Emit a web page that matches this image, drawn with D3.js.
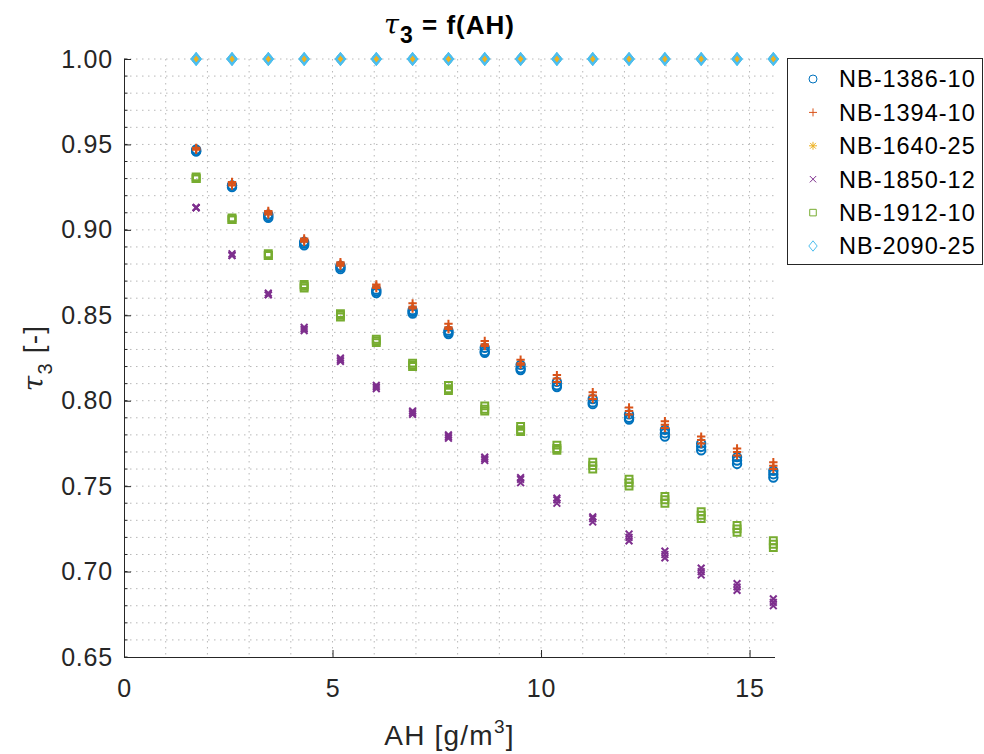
<!DOCTYPE html>
<html>
<head>
<meta charset="utf-8">
<script src="https://cdn.jsdelivr.net/npm/d3@7"></script>
<style>
  html, body { margin: 0; padding: 0; background: #ffffff; }
  svg { display: block; font-family: "Liberation Sans", Arial, Helvetica, sans-serif; }
</style>
</head>
<body>
<svg id="chart" width="984" height="754"></svg>
<script>
// Absolute humidity values (g/m^3) at which transmittance was measured
const ahValues = [1.73, 2.59, 3.46, 4.32, 5.19, 6.05, 6.92, 7.78, 8.65, 9.51, 10.38, 11.24, 12.11, 12.97, 13.84, 14.70, 15.57];

// Transmittance tau_3, three repeat readings per humidity step
const nb1386 = [
  [0.947,0.946,0.946],[0.926,0.926,0.925],[0.909,0.908,0.907],[0.893,0.892,0.891],
  [0.879,0.878,0.877],[0.865,0.864,0.863],[0.853,0.852,0.851],[0.841,0.840,0.839],
  [0.831,0.829,0.828],[0.821,0.819,0.818],[0.811,0.809,0.808],[0.801,0.799,0.798],
  [0.792,0.790,0.789],[0.783,0.781,0.779],[0.775,0.773,0.771],[0.767,0.765,0.763],
  [0.759,0.757,0.755]
];
const nb1394 = [
  [0.948,0.947,0.947],[0.928,0.927,0.926],[0.911,0.910,0.909],[0.895,0.894,0.893],
  [0.881,0.880,0.879],[0.868,0.867,0.866],[0.857,0.855,0.854],[0.845,0.843,0.842],
  [0.835,0.833,0.832],[0.824,0.822,0.821],[0.815,0.813,0.811],[0.805,0.803,0.801],
  [0.796,0.794,0.792],[0.788,0.786,0.784],[0.779,0.777,0.775],[0.772,0.770,0.768],
  [0.764,0.762,0.760]
];
const nb1640 = [
  [1,1,1],[1,1,1],[1,1,1],[1,1,1],[1,1,1],[1,1,1],[1,1,1],[1,1,1],[1,1,1],
  [1,1,1],[1,1,1],[1,1,1],[1,1,1],[1,1,1],[1,1,1],[1,1,1],[1,1,1]
];
const nb1850 = [
  [0.913,0.913,0.913],[0.886,0.885,0.885],[0.863,0.862,0.862],[0.843,0.842,0.841],
  [0.825,0.824,0.823],[0.809,0.808,0.807],[0.794,0.793,0.792],[0.780,0.779,0.778],
  [0.767,0.766,0.765],[0.755,0.754,0.752],[0.743,0.742,0.740],[0.732,0.731,0.729],
  [0.722,0.720,0.718],[0.712,0.710,0.708],[0.702,0.700,0.698],[0.693,0.691,0.689],
  [0.684,0.682,0.680]
];
const nb1912 = [
  [0.931,0.930,0.930],[0.907,0.906,0.906],[0.886,0.885,0.885],[0.868,0.867,0.866],
  [0.851,0.850,0.849],[0.836,0.835,0.834],[0.822,0.821,0.820],[0.809,0.807,0.806],
  [0.797,0.795,0.794],[0.785,0.783,0.782],[0.774,0.772,0.771],[0.764,0.762,0.760],
  [0.754,0.752,0.750],[0.744,0.742,0.740],[0.735,0.733,0.731],[0.727,0.725,0.723],
  [0.718,0.716,0.714]
];
const nb2090 = [
  [1,1,1],[1,1,1],[1,1,1],[1,1,1],[1,1,1],[1,1,1],[1,1,1],[1,1,1],[1,1,1],
  [1,1,1],[1,1,1],[1,1,1],[1,1,1],[1,1,1],[1,1,1],[1,1,1],[1,1,1]
];

const seriesNames = ["NB-1386-10", "NB-1394-10", "NB-1640-25", "NB-1850-12", "NB-1912-10", "NB-2090-25"];
const seriesValues = [nb1386, nb1394, nb1640, nb1850, nb1912, nb2090];
const seriesColors = ["#0072BD", "#D95319", "#EDB120", "#7E2F8E", "#77AC30", "#4DBEEE"];
const seriesMarkers = ["circle", "plus", "star", "cross", "square", "diamond"];

const xTicks = [0, 5, 10, 15];
const yTicks = [0.65, 0.70, 0.75, 0.80, 0.85, 0.90, 0.95, 1.00];

// Layout
const plot = { left: 124, top: 59, right: 775, bottom: 657 };
const svg = d3.select("#chart");

const x = d3.scaleLinear().domain([0, 15.61]).range([plot.left, plot.right]);
const y = d3.scaleLinear().domain([0.65, 1.0]).range([plot.bottom, plot.top]);

const axisColor = "#262626";
const gridColor = "#b8b8b8";

// Grid (minor and major, dotted)
const gridG = svg.append("g");
const xMinor = d3.range(1, 16, 1);
const yMinor = d3.range(0, 36).map(i => +(0.65 + i * 0.01).toFixed(2));
gridG.selectAll("line.vg").data(xMinor).join("line")
  .attr("x1", d => x(d)).attr("x2", d => x(d))
  .attr("y1", plot.top).attr("y2", plot.bottom)
  .attr("stroke", gridColor).attr("stroke-width", 1)
  .attr("stroke-dasharray", "1.5,4.5");
gridG.selectAll("line.hg").data(yMinor.filter(v => v > 0.65)).join("line")
  .attr("x1", plot.left).attr("x2", plot.right)
  .attr("y1", d => y(d)).attr("y2", d => y(d))
  .attr("stroke", gridColor).attr("stroke-width", 1)
  .attr("stroke-dasharray", "1.5,4.5");

// Axes
const xAxis = d3.axisBottom(x).tickValues(xTicks).tickSize(-7).tickPadding(22)
  .tickFormat(d3.format("d"));
const yAxis = d3.axisLeft(y).tickValues(yTicks).tickSize(-7).tickPadding(11)
  .tickFormat(d3.format(".2f"));

const gx = svg.append("g").attr("transform", `translate(0,${plot.bottom})`).call(xAxis);
const gy = svg.append("g").attr("transform", `translate(${plot.left},0)`).call(yAxis);
[gx, gy].forEach(g => {
  g.select(".domain").attr("stroke", axisColor).attr("stroke-width", 1);
  g.selectAll(".tick line").attr("stroke", axisColor);
  g.selectAll(".tick text").attr("fill", axisColor)
    .style("font-size", "25px").style("letter-spacing", "0.8px")
    .style("font-family", "'Liberation Sans', Arial, sans-serif");
});
gx.select(".domain").attr("d", `M${plot.left},0.5H${plot.right}`);
gy.select(".domain").attr("d", `M0.5,${plot.bottom}V${plot.top}`);

// Minor ticks on the y axis
svg.append("g").selectAll("line").data(yMinor).join("line")
  .attr("x1", plot.left).attr("x2", plot.left + 3.5)
  .attr("y1", d => y(d)).attr("y2", d => y(d))
  .attr("stroke", axisColor).attr("stroke-width", 1);

// Marker path generators (s = half extent)
function markerPath(type, s) {
  switch (type) {
    case "circle": return `M${s},0A${s},${s} 0 1,1 ${-s},0A${s},${s} 0 1,1 ${s},0Z`;
    case "plus": return `M${-s},0H${s}M0,${-s}V${s}`;
    case "cross": { const c = s * 0.8; return `M${-c},${-c}L${c},${c}M${-c},${c}L${c},${-c}`; }
    case "star": { const c = s * 0.72; return `M${-s},0H${s}M0,${-s}V${s}M${-c},${-c}L${c},${c}M${-c},${c}L${c},${-c}`; }
    case "square": { const c = s * 0.82; return `M${-c},${-c}H${c}V${c}H${-c}Z`; }
    case "diamond": { const w = s * 1.05, h = s * 1.3; return `M0,${-h}L${w},0L0,${h}L${-w},0Z`; }
  }
}

// Data points
const pointsG = svg.append("g");
seriesValues.forEach((vals, si) => {
  const pts = [];
  vals.forEach((reps, i) => reps.forEach(v => pts.push({ ah: ahValues[i], v })));
  pointsG.append("g").selectAll("path").data(pts).join("path")
    .attr("transform", d => `translate(${x(d.ah)},${y(d.v)})`)
    .attr("d", markerPath(seriesMarkers[si], 4.2))
    .attr("fill", "none")
    .attr("stroke", seriesColors[si])
    .attr("stroke-width", 2);
});

// Title
const title = svg.append("text")
  .attr("x", (plot.left + plot.right) / 2).attr("y", 34)
  .attr("text-anchor", "middle")
  .attr("fill", "#000").style("font-size", "26px").style("font-weight", "bold")
  .style("letter-spacing", "1px");
title.append("tspan").text("τ").style("font-style", "italic").style("font-weight", "normal")
  .style("font-family", "'DejaVu Serif', serif").style("font-size", "27px");
title.append("tspan").text("3").attr("dy", 9).style("font-size", "23px");
title.append("tspan").text(" = f(AH)").attr("dy", -9);

// X axis title
const xt = svg.append("text")
  .attr("x", (plot.left + plot.right) / 2).attr("y", 745)
  .attr("text-anchor", "middle").attr("fill", axisColor)
  .style("font-size", "28px").style("letter-spacing", "1.2px");
xt.append("tspan").text("AH [g/m");
xt.append("tspan").text("3").attr("dy", -12).style("font-size", "19px");
xt.append("tspan").text("]").attr("dy", 12);

// Y axis title
const yt = svg.append("text")
  .attr("transform", `translate(43,${(plot.top + plot.bottom) / 2}) rotate(-90)`)
  .attr("text-anchor", "middle").attr("fill", axisColor)
  .style("font-size", "28px").style("letter-spacing", "1.2px");
yt.append("tspan").text("τ").style("font-style", "italic").style("font-family", "'DejaVu Serif', serif");
yt.append("tspan").text("3").attr("dy", 9).style("font-size", "20px");
yt.append("tspan").text(" [-]").attr("dy", -9);

// Legend
const legend = svg.append("g");
legend.append("rect")
  .attr("x", 787.5).attr("y", 58.5).attr("width", 195).attr("height", 206)
  .attr("fill", "#fff").attr("stroke", axisColor).attr("stroke-width", 1);
const rowY = d3.scaleLinear().domain([0, 5]).range([79, 246]);
seriesNames.forEach((name, i) => {
  legend.append("path")
    .attr("transform", `translate(813,${rowY(i)})`)
    .attr("d", markerPath(seriesMarkers[i], 4))
    .attr("fill", "none").attr("stroke", seriesColors[i]).attr("stroke-width", 1);
  legend.append("text")
    .attr("x", 839).attr("y", rowY(i)).attr("dy", "0.36em")
    .attr("fill", "#000").style("font-size", "23.5px").style("letter-spacing", "1px")
    .text(name);
});
</script>
</body>
</html>
